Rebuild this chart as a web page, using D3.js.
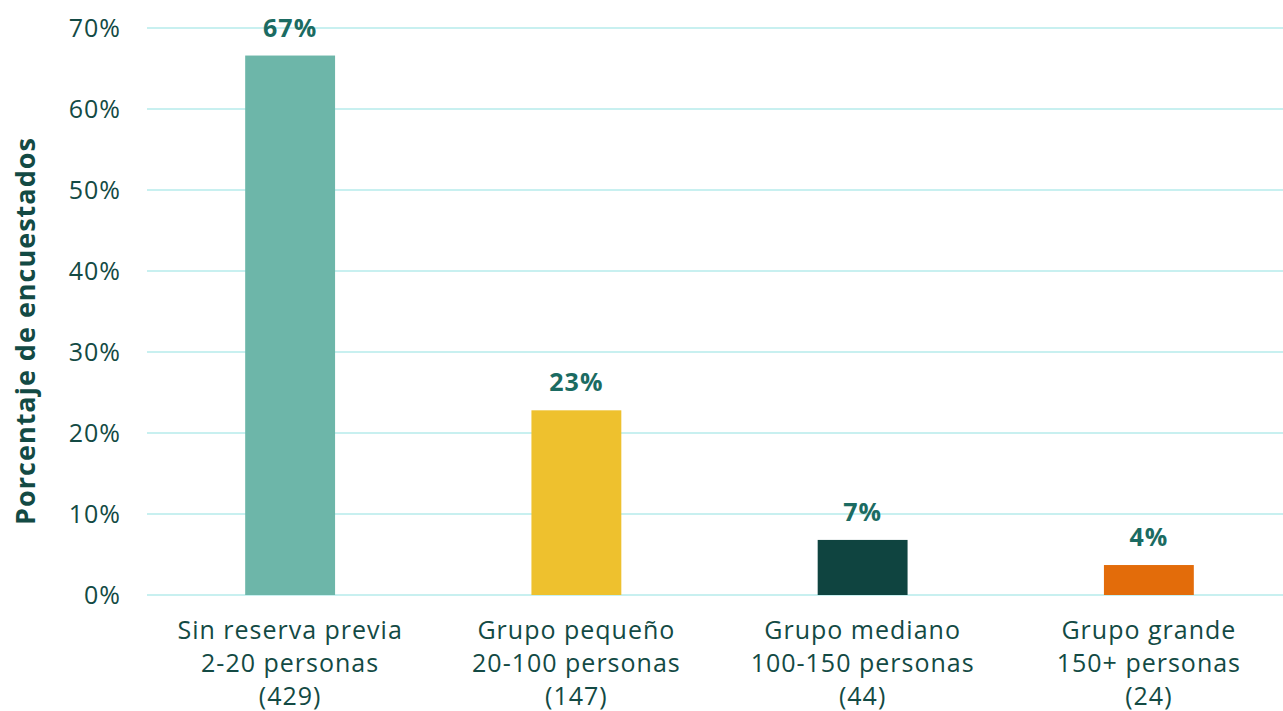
<!DOCTYPE html>
<html>
<head>
<meta charset="utf-8">
<script src="https://cdn.jsdelivr.net/npm/d3@7"></script>
<style>
  body { margin: 0; background: #fff; }
  text { font-family: "Open Sans", "Noto Sans", sans-serif; letter-spacing: 1px; }
</style>
</head>
<body>
<div id="chart"></div>
<script>
// data
const categories = ["Sin reserva previa", "Grupo pequeño", "Grupo mediano", "Grupo grande"];
const sizes = ["2-20 personas", "20-100 personas", "100-150 personas", "150+ personas"];
const counts = [429, 147, 44, 24];
const shares = [66.6, 22.8, 6.8, 3.7];
const valueLabels = ["67%", "23%", "7%", "4%"];
const yTicks = [0, 10, 20, 30, 40, 50, 60, 70];
const colors = ["#6db6a9", "#eec12e", "#0f4440", "#e36c0a"];

const width = 1283, height = 711;
const margin = { top: 28, bottom: 116, left: 147, right: -9 };

const svg = d3.select("#chart").append("svg")
  .attr("width", width)
  .attr("height", height);

const x = d3.scaleBand()
  .domain(categories)
  .range([margin.left, width - margin.right])
  .paddingInner(0.686)
  .paddingOuter(0.343);

const y = d3.scaleLinear()
  .domain([0, 70])
  .range([height - margin.bottom, margin.top]);

// gridlines
svg.append("g")
  .selectAll("line")
  .data(yTicks)
  .join("line")
  .attr("x1", margin.left)
  .attr("x2", width)
  .attr("y1", d => y(d))
  .attr("y2", d => y(d))
  .attr("stroke", "#c8f0f0")
  .attr("stroke-width", 2);

// y tick labels
svg.append("g")
  .selectAll("text")
  .data(yTicks)
  .join("text")
  .attr("x", 121)
  .attr("y", d => y(d) + 9)
  .attr("text-anchor", "end")
  .attr("font-size", 25)
  .attr("fill", "#134a44")
  .text(d => d + "%");

// bars
svg.append("g")
  .selectAll("rect")
  .data(categories)
  .join("rect")
  .attr("x", d => x(d))
  .attr("width", x.bandwidth())
  .attr("y", (d, i) => y(shares[i]))
  .attr("height", (d, i) => y(0) - y(shares[i]))
  .attr("fill", (d, i) => colors[i]);

// value labels
svg.append("g")
  .selectAll("text")
  .data(categories)
  .join("text")
  .attr("x", d => x(d) + x.bandwidth() / 2)
  .attr("y", (d, i) => y(shares[i]) - 19)
  .attr("text-anchor", "middle")
  .attr("font-size", 25)
  .attr("font-weight", "bold")
  .attr("fill", "#1b6b62")
  .text((d, i) => valueLabels[i]);

// category labels (three lines)
const cat = svg.append("g")
  .selectAll("text")
  .data(categories)
  .join("text")
  .attr("text-anchor", "middle")
  .attr("font-size", 25)
  .attr("fill", "#134a44");

cat.each(function(d, i) {
  const cx = x(d) + x.bandwidth() / 2;
  const lines = [d, sizes[i], "(" + counts[i] + ")"];
  d3.select(this).selectAll("tspan")
    .data(lines)
    .join("tspan")
    .attr("x", cx)
    .attr("y", (l, j) => 639 + j * 33)
    .text(l => l);
});

// y axis title
svg.append("text")
  .attr("transform", "translate(35,331) rotate(-90)")
  .attr("text-anchor", "middle")
  .attr("font-size", 27)
  .attr("font-weight", "bold")
  .attr("letter-spacing", "2px")
  .attr("fill", "#134a44")
  .text("Porcentaje de encuestados");
</script>
</body>
</html>
